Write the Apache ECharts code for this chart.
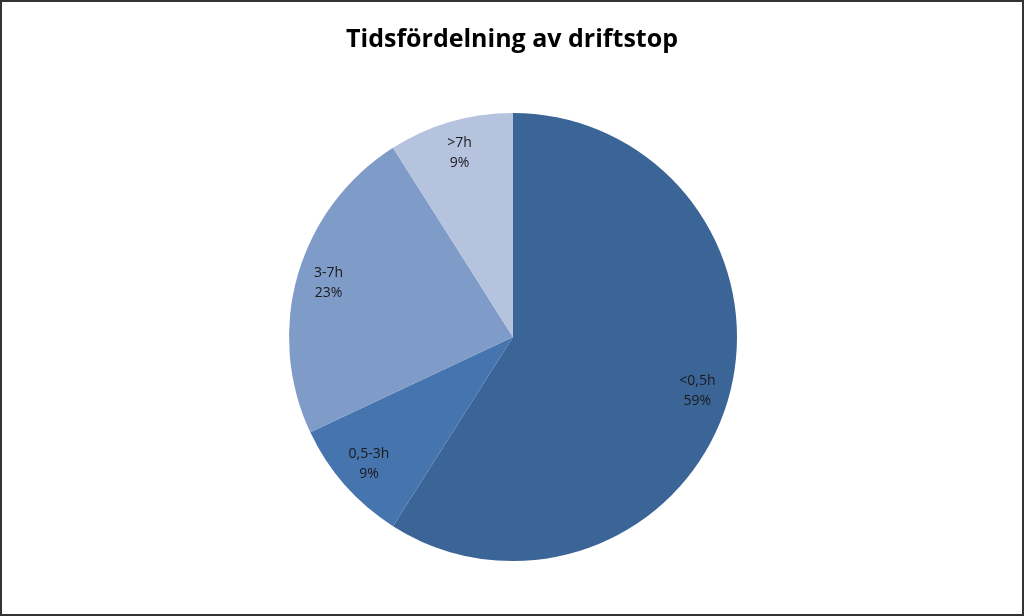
<!DOCTYPE html>
<html><head><meta charset="utf-8">
<script src="https://cdn.jsdelivr.net/npm/echarts@6/dist/echarts.min.js"></script>
<style>html,body{margin:0;padding:0;background:#fff}#c{width:1024px;height:616px;box-sizing:border-box;border:2px solid #333}</style>
</head><body><div id="c"></div>
<script>
const categories = ['<0,5h', '0,5-3h', '3-7h', '>7h'];
const values = [59, 9, 23, 9];
const colors = ['#3C6597', '#4674AE', '#7F9CC8', '#B5C3DF'];
const data = categories.map((n, i) => ({name: n, value: values[i], itemStyle: {color: colors[i]}}));
const chart = echarts.init(document.getElementById('c'));
chart.setOption({
  title: {text: 'Tidsfördelning av driftstop', left: 'center', top: 20,
    textStyle: {fontFamily: 'Open Sans', fontWeight: 'bold', fontSize: 25, color: '#000'}},
  series: [
    {type: 'pie', center: [511, 335], radius: [0, 224], startAngle: 90, clockwise: true,
     data: data, label: {show: false}, labelLine: {show: false}, silent: true,
     itemStyle: {borderColor: '#fff', borderWidth: 0}},
    {type: 'pie', center: [511, 335], radius: [0, 378], startAngle: 90, clockwise: true,
     silent: true, data: categories.map((n, i) => ({name: n, value: values[i]})),
     itemStyle: {color: 'rgba(0,0,0,0)'},
     label: {show: true, position: 'inside', formatter: '{b}\n{d}%', color: '#1a1a1a',
       fontFamily: 'Open Sans', fontSize: 14, lineHeight: 20},
     labelLine: {show: false}}
  ]
});
</script></body></html>
